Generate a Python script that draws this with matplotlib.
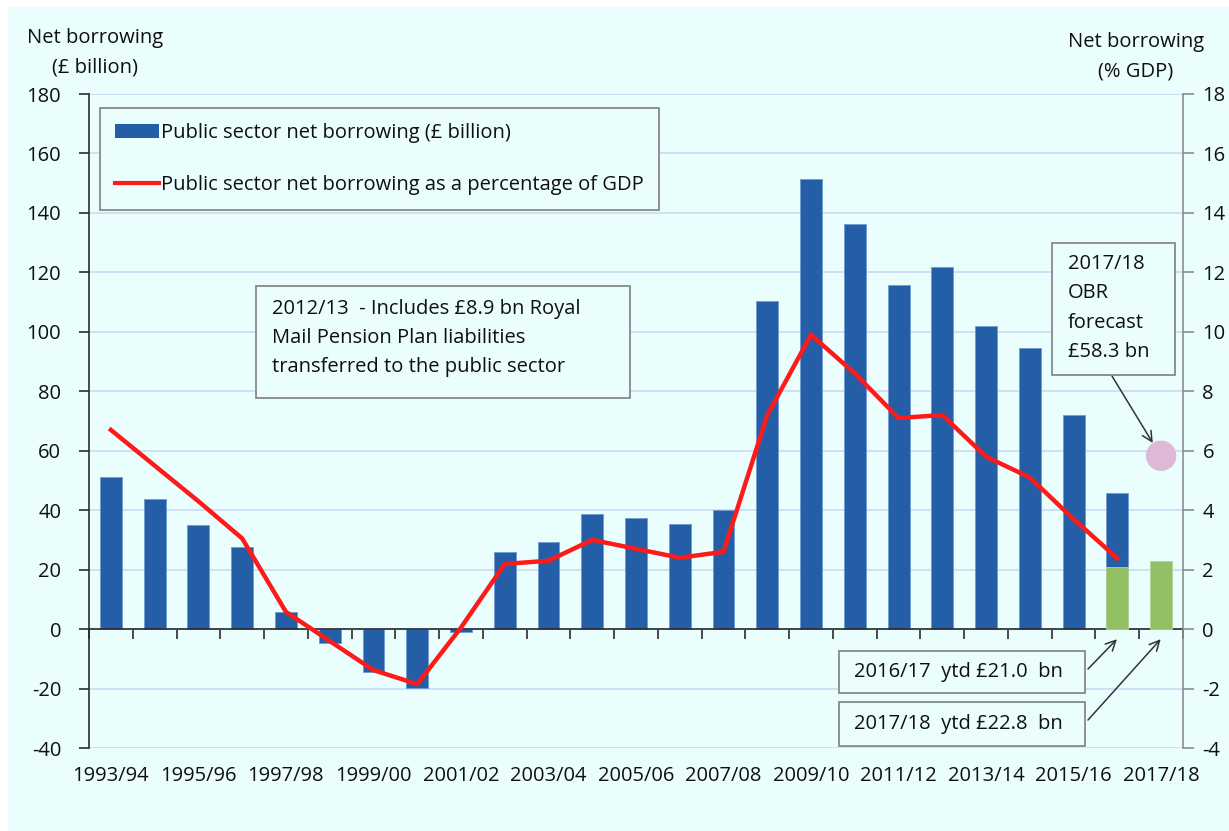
import numpy as np
import matplotlib
matplotlib.use("Agg")
import matplotlib.pyplot as plt
from matplotlib.patches import Rectangle, Patch
from matplotlib.lines import Line2D
import matplotlib.transforms as mtransforms

plt.rcParams['font.family'] = ['Open Sans', 'DejaVu Sans']
plt.rcParams['axes.unicode_minus'] = False

# ---------------- data ----------------
years = ["1993/94", "1994/95", "1995/96", "1996/97", "1997/98", "1998/99", "1999/00",
         "2000/01", "2001/02", "2002/03", "2003/04", "2004/05", "2005/06", "2006/07",
         "2007/08", "2008/09", "2009/10", "2010/11", "2011/12", "2012/13", "2013/14",
         "2014/15", "2015/16", "2016/17", "2017/18"]
borrowing_bn = [51.3, 43.7, 35.0, 27.6, 5.6, -4.7, -14.6, -19.9, -0.9, 25.8, 29.3,
                38.8, 37.4, 35.3, 40.1, 110.5, 151.4, 136.4, 115.9, 121.9, 101.9,
                94.4, 71.9, 45.9, np.nan]
borrowing_pct = [6.7, 5.5, 4.3, 3.05, 0.58, -0.4, -1.38, -1.85, 0.05, 2.19, 2.3,
                 3.0, 2.7, 2.4, 2.6, 7.2, 9.9, 8.6, 7.1, 7.2, 5.8, 5.1, 3.7, 2.38, np.nan]
ytd_bn = [np.nan] * 23 + [21.0, 22.8]
forecast_year = "2017/18"
forecast_bn = 58.3
labeled_years = years[::2]

# ---------------- styling ----------------
W, H = 1229, 831
BLUE = '#245EA6'
GREEN = '#92BE64'
RED = '#FF1A1A'
PINK = '#DDB9D6'
BG = '#EBFEFE'
GRID = '#C9DAF2'
TXT = '#0F0F0F'
FS = 14.5

def px(x, y):
    return (x / W, 1 - y / H)

fig = plt.figure(figsize=(W / 100, H / 100), dpi=100)
fig.patch.set_facecolor('white')
fig.patches.append(Rectangle(px(8, 831), 1 - 8 / W, 1 - 7 / H, transform=fig.transFigure,
                             facecolor=BG, edgecolor='none', zorder=-10))

ax = fig.add_axes([89 / W, (H - 748) / H, (1183 - 89) / W, (748 - 94) / H])
ax.set_facecolor('none')
x = np.arange(len(years))

ax.set_xlim(-0.5, len(years) - 0.5)
ax.set_ylim(-40, 180)
ax.set_yticks(np.arange(-40, 181, 20))
ax.yaxis.grid(True, color=GRID, lw=1.2)
ax.set_axisbelow(True)

ax.bar(x, borrowing_bn, width=0.5, color=BLUE, edgecolor='#6F9AD0', lw=0.6, zorder=2)
ax.bar(x, ytd_bn, width=0.5, color=GREEN, edgecolor='#B5D596', lw=0.6, zorder=3)
ax.scatter([years.index(forecast_year)], [forecast_bn], s=480, color=PINK, zorder=4,
           edgecolors='none')

# axes styling
for s in ['top', 'right']:
    ax.spines[s].set_visible(False)
ax.spines['left'].set_color('#2B2B2B')
ax.spines['left'].set_linewidth(1.2)
ax.spines['bottom'].set_position(('data', 0))
ax.spines['bottom'].set_color('#2B2B2B')
ax.spines['bottom'].set_linewidth(1.2)
ax.set_xticks(np.arange(-0.5, len(years), 1))
ax.set_xticklabels([])
ax.tick_params(axis='x', direction='out', length=7, width=1.2, color='#2B2B2B')
ax.tick_params(axis='y', direction='out', length=7, width=1.2, color='#2B2B2B',
               labelsize=FS, pad=13, labelcolor=TXT)

trans = mtransforms.blended_transform_factory(ax.transData, ax.transAxes)
for lab in labeled_years:
    ax.text(years.index(lab), -0.043, lab, transform=trans, ha='center', va='center',
            fontsize=FS, color=TXT)

ax2 = ax.twinx()
ax2.set_ylim(-4, 18)
ax2.set_yticks(np.arange(-4, 19, 2))
for s in ['top', 'left', 'bottom']:
    ax2.spines[s].set_visible(False)
ax2.spines['right'].set_color('#8C8C8C')
ax2.spines['right'].set_linewidth(1.2)
ax2.tick_params(axis='y', direction='out', length=8, width=1.2, color='#8C8C8C',
                labelsize=FS, pad=6, labelcolor=TXT)
ax2.plot(x, borrowing_pct, color=RED, lw=3.2, solid_joinstyle='miter', zorder=5)

# axis titles
fig.text(*px(95, 38), "Net borrowing", ha='center', va='center', fontsize=FS, color=TXT)
fig.text(*px(95, 68), "(£ billion)", ha='center', va='center', fontsize=FS, color=TXT)
fig.text(*px(1136, 42), "Net borrowing", ha='center', va='center', fontsize=FS, color=TXT)
fig.text(*px(1136, 71), "(% GDP)", ha='center', va='center', fontsize=FS, color=TXT)

# legend
handles = [Patch(facecolor=BLUE, edgecolor='none'), Line2D([], [], color=RED, lw=3)]
leg = ax.legend(handles, ["Public sector net borrowing (£ billion)",
                          "Public sector net borrowing as a percentage of GDP"],
                loc='upper left', bbox_to_anchor=px(100, 108), bbox_transform=fig.transFigure,
                fontsize=FS, frameon=True, fancybox=False, edgecolor='#7F7F7F',
                facecolor=BG, framealpha=1, borderpad=0.75, labelspacing=1.6,
                handlelength=2.2, handletextpad=0.1, borderaxespad=0)
leg.get_frame().set_linewidth(1.2)
for t in leg.get_texts():
    t.set_color(TXT)
leg.set_zorder(10)

def box(x0, y0, x1, y1):
    fig.patches.append(Rectangle(px(x0, y1), (x1 - x0) / W, (y1 - y0) / H,
                                 transform=fig.transFigure, facecolor=BG,
                                 edgecolor='#7F7F7F', lw=1.2, zorder=8))

box(256, 286, 630, 398)
fig.text(*px(272, 338), "2012/13  - Includes £8.9 bn Royal\nMail Pension Plan liabilities\ntransferred to the public sector",
         ha='left', va='center', fontsize=FS, linespacing=1.62, color=TXT, zorder=9)

box(1052, 243, 1175, 375)
fig.text(*px(1068, 308), "2017/18\nOBR\nforecast\n£58.3 bn", ha='left', va='center',
         fontsize=FS, linespacing=1.62, color=TXT, zorder=9)

box(839, 651, 1085, 693)
fig.text(*px(854, 672), "2016/17  ytd £21.0  bn", ha='left', va='center', fontsize=FS,
         color=TXT, zorder=9)
box(839, 702, 1085, 746)
fig.text(*px(854, 724), "2017/18  ytd £22.8  bn", ha='left', va='center', fontsize=FS,
         color=TXT, zorder=9)

arrow = dict(arrowstyle='->', color='#333333', lw=1.1, mutation_scale=18,
             shrinkA=0, shrinkB=0)
ax.annotate("", xy=(23.81, 62.6), xytext=px(1112, 376), textcoords='figure fraction',
            arrowprops=arrow, annotation_clip=False)
ax.annotate("", xy=(22.99, -3.4), xytext=px(1088, 669), textcoords='figure fraction',
            arrowprops=arrow, annotation_clip=False)
ax.annotate("", xy=(23.99, -3.4), xytext=px(1088, 720), textcoords='figure fraction',
            arrowprops=arrow, annotation_clip=False)

fig.savefig("out.png", dpi=100, facecolor=fig.get_facecolor())
